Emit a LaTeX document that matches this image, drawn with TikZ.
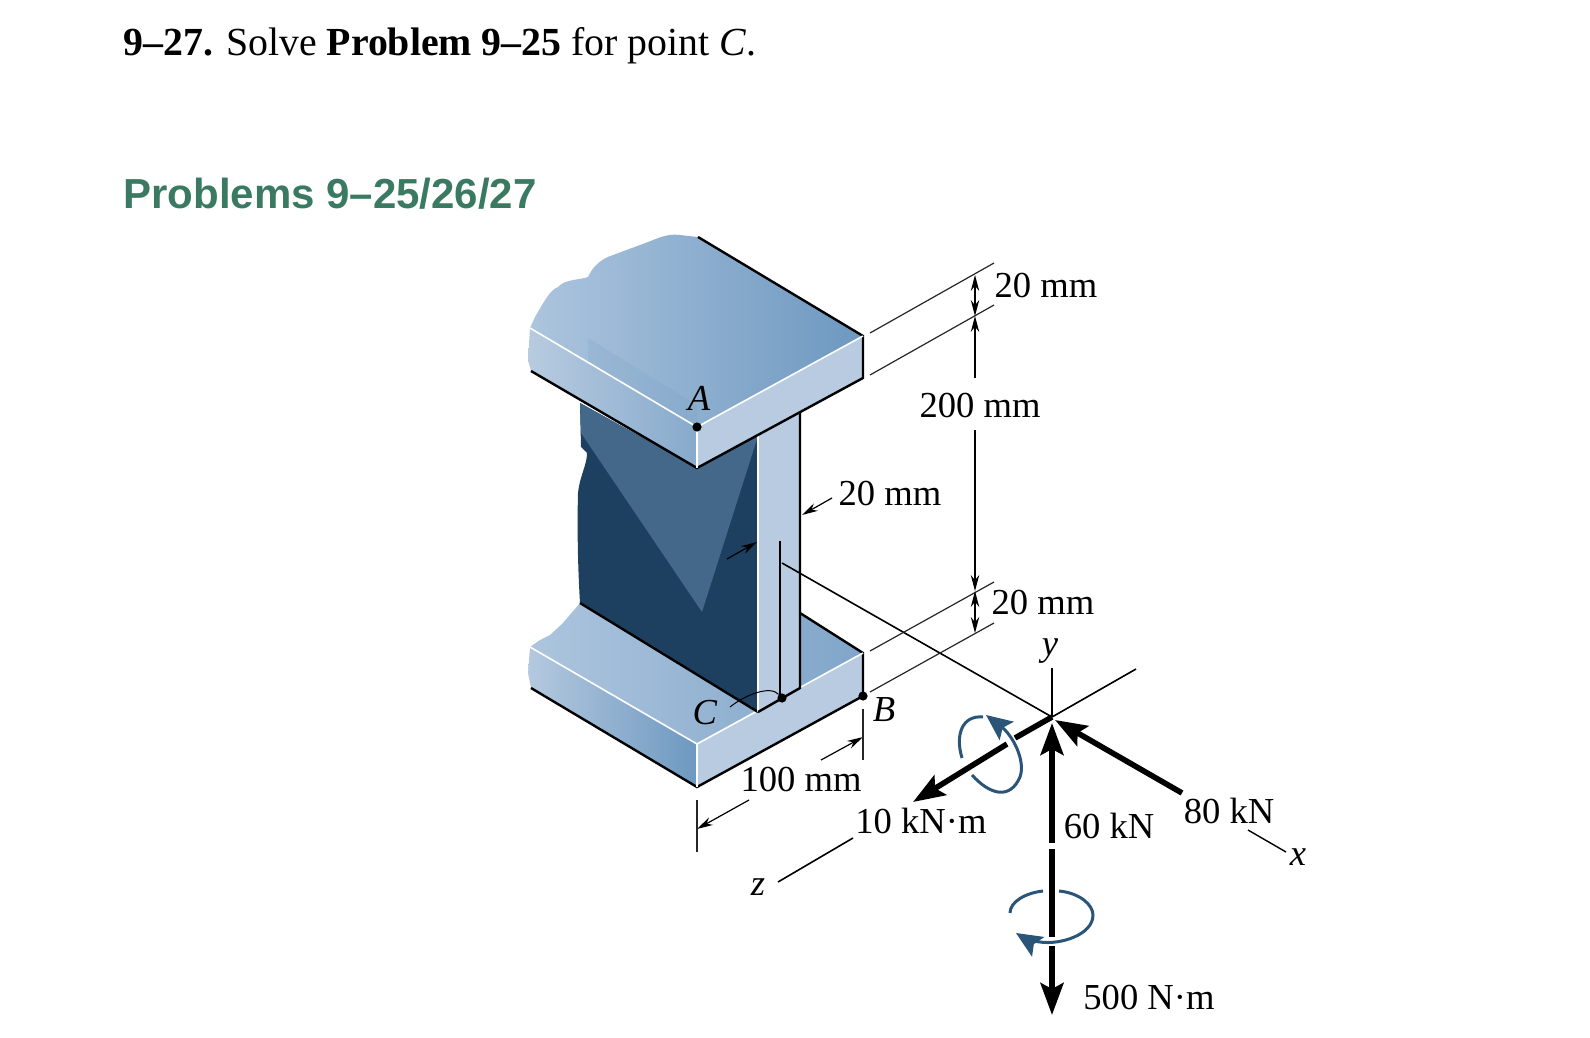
\documentclass[tikz,border=0pt]{standalone}
\usepackage{fontspec}
\setmainfont{Liberation Serif}
\newfontfamily\headfont{Liberation Sans}
\usepackage{xcolor}
\usepackage{tikz}
\usetikzlibrary{arrows.meta}

\definecolor{webdark}{HTML}{1D3F60}
\definecolor{weblight}{HTML}{44688A}
\definecolor{edgeblue}{HTML}{B8CBE0}
\definecolor{facelight}{HTML}{ADC5DE}
\definecolor{facedeep}{HTML}{6D98C0}
\definecolor{turnblue}{HTML}{2A5578}
\definecolor{headgreen}{HTML}{3A7A62}

\tikzset{
  lbl/.style={font=\fontsize{18.3}{20}\selectfont, inner sep=0pt},
  pointdot/.style={circle, fill=black, inner sep=0pt, minimum size=4.6pt},
  outline/.style={line width=1.2pt, line join=miter},
  whiteedge/.style={white, line width=0.8pt},
  extline/.style={black!85, line width=0.6pt},
  dimline/.style={black!70, line width=0.6pt},
  dimtip/.style={black, line width=0.6pt, -{Stealth[length=8pt, width=4.2pt]}},
  forcearrow/.style={line width=2.8pt, -{Stealth[length=16pt, width=11.5pt, inset=3pt]}},
  forceline/.style={line width=2.8pt},
  turnline/.style={turnblue, line width=1.5pt},
  turnarrow/.style={turnblue, line width=1.5pt, -{Stealth[length=13pt, width=11.5pt, inset=2.5pt]}}
}

\begin{document}
\begin{tikzpicture}[x=0.5pt, y=-0.5pt]
        \useasboundingbox (0, 0) rectangle (1590, 1038);

        \node[anchor=base west, inner sep=0pt, font=\fontsize{19.9}{22}\selectfont] (title) at (123, 56)
          {\textbf{9--27.} Solve \textbf{Problem 9--25} for point \textit{C}.};
        \node[anchor=base west, inner sep=0pt, text=headgreen, font=\headfont\bfseries\fontsize{21}{23}\selectfont] (heading) at (123, 208)
          {Problems 9–25/26/27};

        % lower flange
        \path[left color=facelight, right color=facedeep!70!facelight]
          (530, 647) -- (540, 640) -- (550, 635) -- (563, 623) -- (580, 603) -- (800, 613) -- (863, 653) -- (697, 744) -- cycle;
        \path[left color=edgeblue!70!facelight, right color=facedeep]
          (530, 647) -- (697, 744) -- (697, 787) -- (531, 688) -- (528, 673) -- cycle;
        \fill[edgeblue] (697, 744) -- (863, 653) -- (863, 696) -- (697, 787) -- cycle;
        \draw[outline] (800, 613) -- (863, 653) -- (863, 696) -- (697, 787) -- (531, 688);
        \draw[whiteedge] (530, 647) -- (697, 744) -- (863, 653);
        \draw[whiteedge] (697, 744) -- (697, 787);

        % web
        \fill[webdark] (580, 403) -- (697, 468) -- (758, 435) -- (758, 712) -- (580, 603)
          .. controls (578, 570) and (577, 530) .. (578, 493)
          .. controls (580, 475) and (587, 465) .. (587, 453) -- (581, 447) -- cycle;
        \fill[weblight] (580, 403) -- (697, 468) -- (758, 436) -- (702, 612) -- (581, 433) -- cycle;
        \draw[outline] (580, 603) -- (758, 712);
        \fill[edgeblue] (758, 435) -- (800, 411) -- (800, 688) -- (758, 712) -- cycle;
        \draw[whiteedge] (758, 436) -- (758, 712);
        \draw[outline] (800, 411) -- (800, 688) -- (758, 712);

        % upper flange
        \path[left color=facelight, right color=facedeep]
          (530, 328) -- (535, 317) .. controls (545, 300) and (550, 290) .. (558, 287)
          .. controls (565, 279) and (580, 280) .. (588, 277)
          .. controls (592, 268) and (600, 259) .. (613, 255)
          -- (640, 245) .. controls (655, 240) and (665, 233) .. (680, 235)
          -- (698, 237) -- (863, 336) -- (697, 427) -- cycle;
        \fill[facedeep, opacity=0.15] (588, 338) -- (697, 405) -- (697, 427) -- (588, 364) -- cycle;
        \path[left color=edgeblue, right color=facedeep!60!facelight]
          (530, 328) -- (697, 427) -- (697, 468) -- (531, 371) -- (528, 360) -- cycle;
        \fill[edgeblue] (697, 427) -- (863, 336) -- (863, 378) -- (697, 468) -- cycle;
        \draw[outline] (698, 237) -- (863, 336) -- (863, 378) -- (697, 468) -- (531, 371);
        \draw[whiteedge] (530, 328) -- (697, 427) -- (863, 336);
        \draw[whiteedge] (697, 427) -- (697, 468);

        % points
        \node[pointdot] (A) at (697, 427) {};
        \node[pointdot] (B) at (863, 696) {};
        \node[pointdot] (C) at (782, 698) {};
        \node[lbl] (Alabel) at (699, 398) {\textit{A}};
        \node[lbl] (Blabel) at (884, 710) {\textit{B}};
        \node[lbl] (Clabel) at (705, 713) {\textit{C}};
        \coordinate (Cleader) at (730, 707);
        \draw[line width=0.5pt] (Cleader) .. controls (745, 695) and (770, 685) .. (C);

        % centre line
        \coordinate (Ctop) at (780, 541);
        \coordinate (Cline) at (782, 563);
        \coordinate (O) at (1052, 717);
        \draw[line width=0.8pt] (Ctop) -- (780, 698);
        \draw[line width=0.8pt] (Cline) -- (O);

        % dimensions on the right
        \draw[extline] (870, 333) -- (994, 263);
        \draw[extline] (870, 375) -- (994, 305);
        \draw[extline] (870, 651) -- (994, 582);
        \draw[extline] (870, 692) -- (994, 623);
        \coordinate (d1) at (975, 275);
        \coordinate (d2) at (975, 316);
        \coordinate (d3) at (975, 591);
        \coordinate (d4) at (975, 633);
        \coordinate (d5) at (975, 378);
        \coordinate (d6) at (975, 430);
        \coordinate (dm) at (975, 296);
        \coordinate (dn) at (975, 612);
        \draw[dimtip] (dm) -- (d1);
        \draw[dimtip] (dm) -- (d2);
        \draw[dimtip] (d5) -- (d2);
        \draw[dimtip] (d6) -- (d3);
        \draw[dimtip] (dn) -- (d3);
        \draw[dimtip] (dn) -- (d4);
        \node[lbl] (topdim) at (1046, 286) {20 mm};
        \node[lbl] (heightdim) at (980, 406) {200 mm};
        \node[lbl] (lowdim) at (1043, 603) {20 mm};

        % web thickness
        \node[lbl] (webdim) at (890, 494) {20 mm};
        \coordinate (w1) at (832, 498);
        \coordinate (w2) at (802, 515);
        \coordinate (w3) at (727, 559);
        \coordinate (w4) at (757, 542);
        \draw[dimtip] (w1) -- (w2);
        \draw[dimtip] (w3) -- (w4);

        % flange width
        \node[lbl] (widthdim) at (801, 780) {100 mm};
        \coordinate (b1) at (821, 760);
        \coordinate (b2) at (863, 737);
        \coordinate (b3) at (749, 800);
        \coordinate (b4) at (697, 829);
        \draw[dimtip] (b1) -- (b2);
        \draw[dimtip] (b3) -- (b4);
        \draw[extline] (863, 709) -- (863, 760);
        \draw[extline] (697, 800) -- (697, 852);

        % axes
        \coordinate (ytop) at (1052, 668);
        \coordinate (xback) at (1136, 669);
        \coordinate (zstart) at (853, 838);
        \coordinate (zend) at (778, 882);
        \coordinate (xstart) at (1248, 830);
        \coordinate (xend) at (1286, 852);
        \draw[line width=0.6pt] (ytop) -- (O);
        \draw[line width=0.8pt] (xback) -- (O);
        \draw[line width=0.8pt] (zstart) -- (zend);
        \draw[line width=0.7pt] (xstart) -- (xend);
        \node[lbl] (ylabel) at (1050, 651) {\textit{y}};
        \node[lbl] (xlabel) at (1298, 857) {\textit{x}};
        \node[lbl] (zlabel) at (758, 887) {\textit{z}};

        % loads
        \coordinate (f1) at (1015, 738);
        \coordinate (f2) at (1007, 744);
        \coordinate (f3) at (913, 802);
        \coordinate (f4) at (1182, 793);
        \coordinate (f5) at (1055, 720);
        \coordinate (f6) at (1052, 843);
        \coordinate (f7) at (1052, 723);
        \coordinate (f8) at (1052, 849);
        \coordinate (f9) at (1052, 937);
        \coordinate (f10) at (1052, 946);
        \coordinate (f11) at (1052, 1015);
        \draw[forceline] (O) -- (f1);
        \draw[forcearrow] (f2) -- (f3);
        \draw[forcearrow] (f4) -- (f5);
        \draw[forcearrow] (f6) -- (f7);
        \draw[forceline] (f8) -- (f9);
        \draw[forcearrow] (f10) -- (f11);

        \draw[turnline] (962, 758) .. controls (955, 735) and (962, 715) .. (983, 717);
        \draw[turnarrow] (972, 775) .. controls (990, 795) and (1010, 800) .. (1020, 777)
          .. controls (1026, 760) and (1012, 735) .. (986, 715);
        \draw[turnline] (1043, 891) .. controls (1025, 893) and (1010, 902) .. (1010, 913);
        \draw[turnarrow] (1059, 891) .. controls (1080, 893) and (1093, 905) .. (1093, 915)
          .. controls (1093, 935) and (1060, 945) .. (1040, 942)
          .. controls (1032, 941) and (1024, 938) .. (1016, 933);

        \node[lbl] (Nmomx) at (921, 821) {10 kN·m};
        \node[lbl] (Vforce) at (1109, 826) {60 kN};
        \node[lbl] (Nforce) at (1229, 811) {80 kN};
        \node[lbl] (Nmomy) at (1149, 997) {500 N·m};
\end{tikzpicture}
\end{document}
